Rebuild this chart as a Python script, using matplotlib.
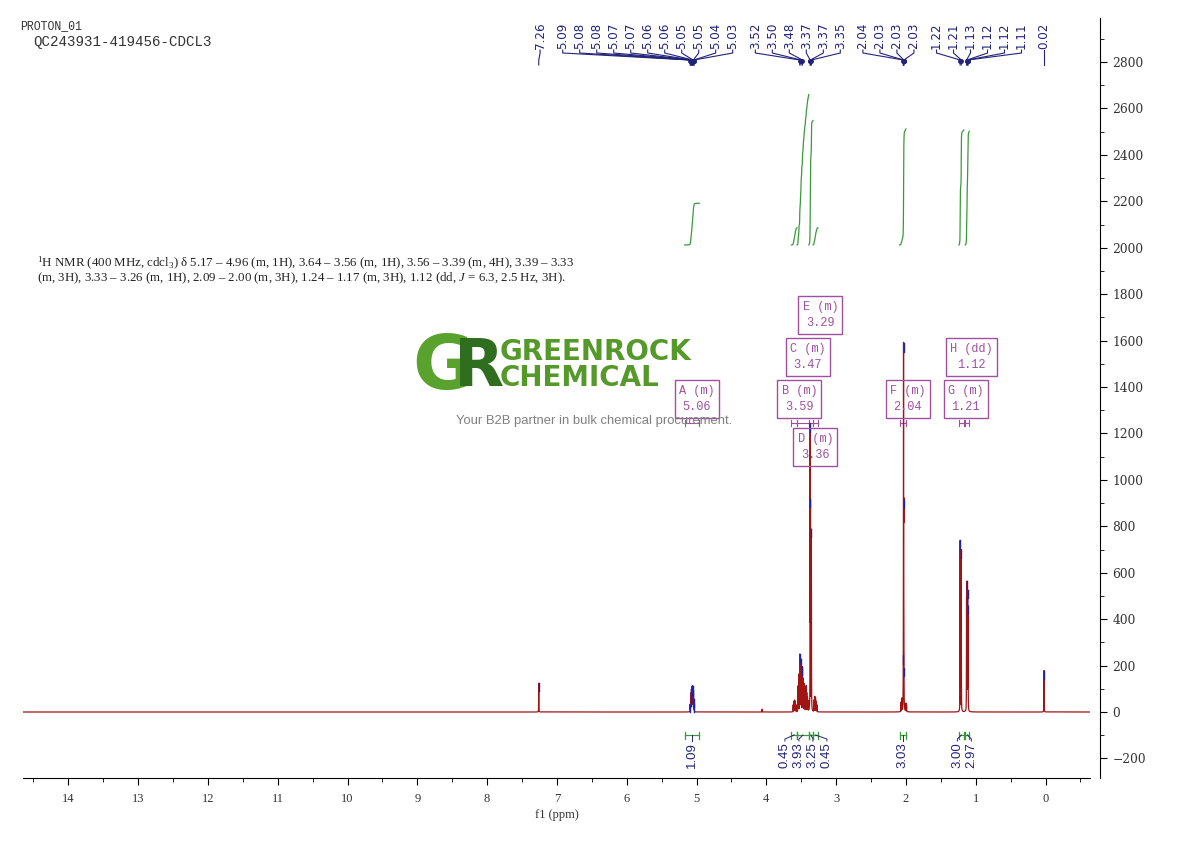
import matplotlib
matplotlib.use("Agg")
import matplotlib.pyplot as plt
from matplotlib.ticker import MultipleLocator
import numpy as np

plt.rcParams['mathtext.fontset'] = 'custom'
plt.rcParams['mathtext.rm'] = 'Liberation Serif'
plt.rcParams['mathtext.it'] = 'Liberation Serif:italic'

# ---- data ----
experiment = "PROTON_01"
sample_name = "QC243931-419456-CDCL3"

# resolved lines of the trace: position (ppm) and height
line_ppm = [7.260,
            5.091, 5.084, 5.078, 5.072, 5.066, 5.061, 5.056, 5.051, 5.046, 5.040, 5.033,
            4.060,
            3.615, 3.605, 3.595, 3.585, 3.575,
            3.545, 3.535, 3.521, 3.512, 3.503, 3.494, 3.482, 3.472, 3.462, 3.452,
            3.440, 3.430, 3.420, 3.410, 3.400,
            3.372, 3.367, 3.354,
            3.315, 3.305, 3.295, 3.285, 3.275,
            2.070, 2.058, 2.038, 2.034, 2.031, 2.027, 2.000, 1.990,
            1.223, 1.207,
            1.131, 1.124, 1.116, 1.109,
            0.020]
line_height = [125,
               30, 55, 75, 90, 100, 95, 100, 85, 70, 50, 30,
               12,
               30, 45, 50, 45, 30,
               110, 160, 245, 180, 220, 170, 190, 140, 120, 100,
               90, 110, 80, 60, 45,
               1200, 850, 780,
               50, 65, 60, 45, 30,
               40, 55, 100, 1490, 700, 90, 35, 25,
               740, 700,
               480, 540, 500, 440,
               180]

# picked peaks, one list per label group
pick_groups = [[7.260],
               [5.091, 5.084, 5.078, 5.072, 5.066, 5.061, 5.056, 5.051, 5.046, 5.040, 5.033],
               [3.521, 3.503, 3.482, 3.372, 3.367, 3.354],
               [2.038, 2.034, 2.031, 2.027],
               [1.223, 1.207, 1.131, 1.124, 1.116, 1.109],
               [0.020]]

# multiplets / integrals
mult_letter = ['A', 'B', 'C', 'D', 'E', 'F', 'G', 'H']
mult_kind = ['m', 'm', 'm', 'm', 'm', 'm', 'm', 'dd']
mult_shift = [5.06, 3.59, 3.47, 3.36, 3.29, 2.04, 1.21, 1.12]
int_hi = [5.17, 3.64, 3.56, 3.39, 3.33, 2.09, 1.24, 1.15]
int_lo = [4.96, 3.56, 3.39, 3.33, 3.26, 2.00, 1.17, 1.09]
int_value = [1.09, 0.45, 3.93, 3.25, 0.45, 3.03, 3.00, 2.97]

report_line1 = (r"$^{1}$H NMR (400 MHz, cdcl$_{3}$) δ 5.17 – 4.96 (m, 1H), 3.64 – 3.56 (m, 1H), "
                r"3.56 – 3.39 (m, 4H), 3.39 – 3.33")
report_line2 = (r"(m, 3H), 3.33 – 3.26 (m, 1H), 2.09 – 2.00 (m, 3H), 1.24 – 1.17 (m, 3H), "
                r"1.12 (dd, $J$ = 6.3, 2.5 Hz, 3H).")

# ---- styling ----
W, H = 1190, 841
red = '#a01414'
blue = '#2323a0'
navy = '#23237a'
green = '#3a9a3a'
purple = '#a050a0'

XL, XR = 14.652, -0.6375
YB, YT = -284.3, 2989.6
AX_L, AX_R, AX_T, AX_B = 22.8, 1090.0, 18.0, 778.0


def px_x(p):
    # ppm -> pixel column
    return AX_L + (XL - p) / (XL - XR) * (AX_R - AX_L)


def ppm_of(px):
    return XL - (px - AX_L) / (AX_R - AX_L) * (XL - XR)


def val_of(py):
    return YB + (AX_B - py) / (AX_B - AX_T) * (YT - YB)


fig = plt.figure(figsize=(W / 100, H / 100), dpi=100)
ax = fig.add_axes([AX_L / W, 1 - AX_B / H, (AX_R - AX_L) / W, (AX_B - AX_T) / H])
ax.set_xlim(XL, XR)
ax.set_ylim(YB, YT)

# spectrum
ppm = np.arange(XR, XL, 0.0002)
hw = 0.0012
spec = np.zeros_like(ppm)
for p, h in zip(line_ppm, line_height):
    spec += h / (1 + ((ppm - p) / hw) ** 2)
ax.plot(ppm, spec, color=red, lw=0.9, zorder=3)

# peak tops in blue
for grp in pick_groups:
    for p in grp:
        top = np.interp(p, ppm, spec)
        ax.plot([p, p], [max(top - 35, 0), top], color=blue, lw=1.0, zorder=4)

# peak labels stacked from the right
label_step, group_gap = 17.0, 22.6
placed = []
x = None
for grp in reversed(pick_groups):
    for k, p in enumerate(sorted(grp)):
        if x is None:
            x = px_x(p)
        elif k == 0:
            x -= group_gap
        else:
            x -= label_step
        placed.append((p, x, len(grp)))
for p, lx, n in placed:
    ax.text(ppm_of(lx), val_of(49), "%.2f" % p, rotation=90, ha='center', va='bottom',
            fontsize=8.6, color=navy, family='DejaVu Sans')
    ax.plot([ppm_of(lx), ppm_of(lx), p, p], [val_of(50), val_of(53), val_of(60), val_of(65)],
            color=navy, lw=0.8, clip_on=False)
    if n > 1:
        ax.plot([p], [val_of(61)], marker='o', ms=2.5, color=navy)

# integral curves
base = val_of(245)
per_h = 165.0
for hi, lo, v in zip(int_hi, int_lo, int_value):
    m = (ppm >= lo) & (ppm <= hi)
    seg_x = ppm[m][::-1]
    cum = np.cumsum(spec[m][::-1])
    ax.plot(seg_x, base + cum / cum[-1] * v * per_h, color=green, lw=0.9)

# integral brackets and values below the baseline
ideal = [px_x((hi + lo) / 2) for hi, lo in zip(int_hi, int_lo)]
order = np.argsort(ideal)
blocks = [[ideal[i]] for i in order]
gap = 14.0
merged = True
while merged:
    merged = False
    for i in range(len(blocks) - 1):
        s1 = np.mean(blocks[i]) - gap * (len(blocks[i]) - 1) / 2
        e1 = s1 + gap * (len(blocks[i]) - 1)
        s2 = np.mean(blocks[i + 1]) - gap * (len(blocks[i + 1]) - 1) / 2
        if s2 - e1 < gap:
            blocks[i] = blocks[i] + blocks.pop(i + 1)
            merged = True
            break
label_x = []
for b in blocks:
    s = np.mean(b) - gap * (len(b) - 1) / 2
    label_x += [s + gap * k for k in range(len(b))]
lab_pos = dict(zip(order, label_x))

yb = val_of(735)
tk = 3.5 / (AX_B - AX_T) * (YT - YB)
for i, (hi, lo, v) in enumerate(zip(int_hi, int_lo, int_value)):
    ax.plot([hi, lo], [yb, yb], color=green, lw=0.9)
    ax.plot([hi, hi], [yb - tk, yb + tk], color=green, lw=0.9)
    ax.plot([lo, lo], [yb - tk, yb + tk], color=green, lw=0.9)
    cx = (hi + lo) / 2
    lx = ppm_of(lab_pos[i])
    ax.plot([cx, lx, lx], [yb, val_of(739), val_of(741)], color=navy, lw=0.7)
    ax.text(lx, val_of(742), "%.2f" % v, rotation=90, ha='center', va='top',
            fontsize=9.5, color=navy, family='Liberation Sans')

# multiplet boxes
box_level = [0, 0, 1, -1, 2, 0, 0, 1]
for let, kind, sh, hi, lo, lvl in zip(mult_letter, mult_kind, mult_shift, int_hi, int_lo, box_level):
    by = 399 - 42 * lvl if lvl >= 0 else 447
    bx = px_x(sh) + 4.5
    ax.text(ppm_of(bx), val_of(by), "%s (%s)\n%.2f" % (let, kind, sh), ha='center', va='center',
            multialignment='center', linespacing=1.55, fontsize=8.6, color=purple,
            family='Liberation Mono', zorder=5,
            bbox=dict(boxstyle='square,pad=0.35', fc='none', ec=purple, lw=1))
    yr = val_of(423)
    tr = 3 / (AX_B - AX_T) * (YT - YB)
    ax.plot([hi, lo], [yr, yr], color=purple, lw=0.8)
    ax.plot([hi, hi], [yr - tr, yr + tr], color=purple, lw=0.8)
    ax.plot([lo, lo], [yr - tr, yr + tr], color=purple, lw=0.8)

# axes look
for s in ['left', 'top']:
    ax.spines[s].set_visible(False)
ax.spines['right'].set_position(('outward', 7))
ax.yaxis.tick_right()
ax.yaxis.set_major_locator(MultipleLocator(200))
ax.yaxis.set_minor_locator(MultipleLocator(100))
ax.xaxis.set_major_locator(MultipleLocator(1))
ax.xaxis.set_minor_locator(MultipleLocator(0.5))
ax.tick_params(axis='y', which='major', length=5, pad=4, labelsize=8.8, labelcolor='#333333')
ax.tick_params(axis='y', which='minor', length=3)
ax.tick_params(axis='x', which='major', length=5, pad=6, labelsize=9, labelcolor='#333333')
ax.tick_params(axis='x', which='minor', length=3)
for t in ax.get_yticklabels():
    t.set_family('DejaVu Serif')
for t in ax.get_xticklabels():
    t.set_family('Liberation Serif')
ax.set_xlabel("f1 (ppm)", family='Liberation Serif', fontsize=9, color='#333333', labelpad=3)

# header
fig.text(20 / W, 1 - 26 / H, experiment, family='Liberation Mono', fontsize=8.3, va='center', color='#333333')
fig.text(33 / W, 1 - 42 / H, sample_name, family='Liberation Mono', fontsize=10.2, va='center', color='#333333')

# report text
fig.text(37 / W, 1 - 263 / H, report_line1, family='Liberation Serif', fontsize=9.3, va='center', color='#222222')
fig.text(37 / W, 1 - 278 / H, report_line2, family='Liberation Serif', fontsize=9.3, va='center', color='#222222')

# watermark logo
fig.text(443 / W, 1 - 368 / H, "G", family='DejaVu Sans', weight='bold', fontsize=54,
         color='#5aa22e', ha='center', va='center')
fig.text(479 / W, 1 - 368 / H, "R", family='DejaVu Sans', weight='bold', fontsize=47,
         color='#2f6e1f', ha='center', va='center')
fig.text(500 / W, 1 - 365 / H, "GREENROCK\nCHEMICAL", family='DejaVu Sans', weight='bold', fontsize=20,
         linespacing=0.95, color='#55992a', va='center')
fig.text(456 / W, 1 - 421 / H, "Your B2B partner in bulk chemical procurement.",
         family='Liberation Sans', fontsize=9.4, color='#808080', va='center')

fig.savefig("out.png", dpi=100)
